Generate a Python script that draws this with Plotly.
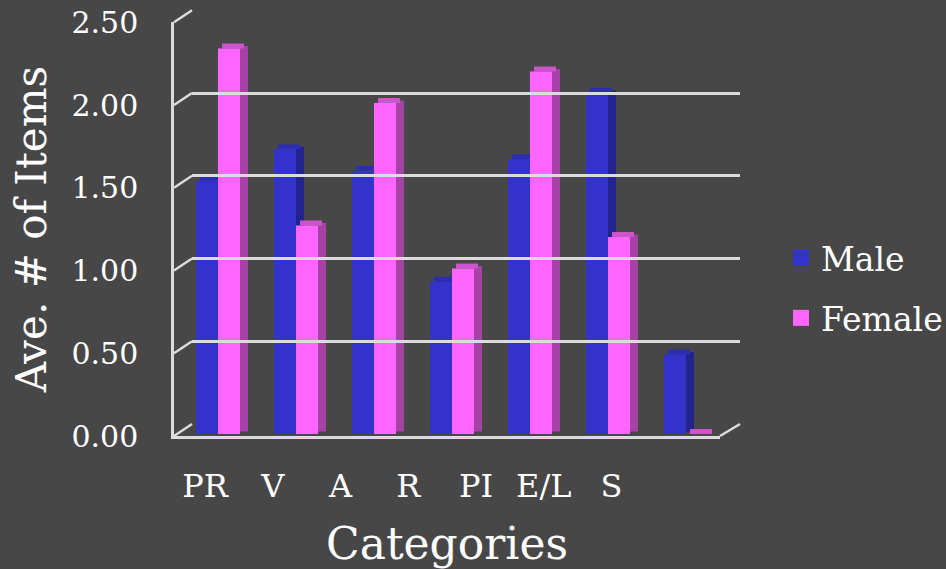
import plotly.graph_objects as go

categories = ["PR", "V", "A", "R", "PI", "E/L", "S"]
male = [1.53, 1.72, 1.59, 0.92, 1.66, 2.06, 0.48]
female = [2.33, 1.26, 2.00, 1.00, 2.19, 1.19, 0.0]
y_ticks = [0, 0.5, 1.0, 1.5, 2.0, 2.5]
y_tick_text = ["0.00", "0.50", "1.00", "1.50", "2.00", "2.50"]

BG = "#474747"
BLUE, BLUE_SIDE, BLUE_TOP = "#3333CC", "#23238C", "#2C2CB4"
PINK, PINK_SIDE, PINK_TOP = "#FF66FF", "#A642A6", "#CC55CC"
GRID = "#dcdcdc"
SERIF = "DejaVu Serif"

# pixel layout of the pseudo-3D frame
W, H = 946, 569
PXL, PXR, PYT, PYB = 160, 946, 10, 437
PPU = 165.5            # pixels per unit on the value axis
BAR_W = 0.282          # bar width in category units
DX = 0.103             # bar depth, category units
DY = 0.03              # bar depth, value units


def fx(px):
    return (px - PXL) / (PXR - PXL)


def fy(py):
    return (PYB - py) / (PYB - PYT)


fig = go.Figure()
# side faces
for vals, off, col, nm in [(male, -BAR_W, BLUE_SIDE, "Male"), (female, 0.0, PINK_SIDE, "Female")]:
    fig.add_trace(go.Bar(x=categories, y=vals, base=DY / 2, offset=off + BAR_W, width=DX,
                         marker=dict(color=col, line=dict(width=0)), showlegend=False,
                         hoverinfo="skip", name=nm))
# top faces
for vals, off, col, nm in [(male, -BAR_W, BLUE_TOP, "Male"), (female, 0.0, PINK_TOP, "Female")]:
    fig.add_trace(go.Bar(x=categories, y=[DY] * len(vals), base=vals, offset=off + DX / 2, width=BAR_W,
                         marker=dict(color=col, line=dict(width=0)), showlegend=False,
                         hoverinfo="skip", name=nm))
# front faces
for vals, off, col, nm in [(male, -BAR_W, BLUE, "Male"), (female, 0.0, PINK, "Female")]:
    fig.add_trace(go.Bar(x=categories, y=vals, offset=off, width=BAR_W,
                         marker=dict(color=col, line=dict(width=0)), showlegend=False, name=nm))

# legend entries
fig.add_trace(go.Scatter(x=[None], y=[None], mode="markers", name="Male", legendgroup="m",
                         marker=dict(symbol="square", size=20, color=BLUE)))
fig.add_trace(go.Scatter(x=[None], y=[None], mode="markers", name="Female", legendgroup="f",
                         marker=dict(symbol="square", size=20, color=PINK)))

# helper (empty) traces carrying the frame axes
for xa, ya in [("x2", "y2"), ("x3", "y3"), ("x4", "y4")]:
    fig.add_trace(go.Scatter(x=categories, y=[None] * len(categories), mode="markers",
                             showlegend=False, hoverinfo="skip", xaxis=xa, yaxis=ya))

common_cat = dict(type="category", categoryarray=categories, range=[-0.5, 6.5],
                  showgrid=False, zeroline=False, ticks="", automargin=False)

shapes = []
for v in y_ticks:
    shapes.append(dict(type="line", xref="paper", yref="paper",
                       x0=fx(174), y0=fy(436 - v * PPU), x1=fx(192), y1=fy(424 - v * PPU),
                       line=dict(color=GRID, width=2.5)))
shapes.append(dict(type="line", xref="paper", yref="paper",
                   x0=fx(720), y0=fy(436), x1=fx(740), y1=fy(424),
                   line=dict(color=GRID, width=2.5)))

fig.update_layout(
    width=W, height=H,
    margin=dict(l=PXL, r=W - PXR, t=PYT, b=H - PYB, autoexpand=False),
    paper_bgcolor=BG, plot_bgcolor="rgba(0,0,0,0)",
    barmode="overlay",
    font=dict(family=SERIF, color="white"),
    shapes=shapes,
    # bars
    xaxis=dict(**common_cat, domain=[fx(179), fx(725)], showticklabels=False, showline=False),
    yaxis=dict(range=[0, 2.5], domain=[fy(434), fy(434 - 2.5 * PPU)], visible=False,
               showgrid=False, zeroline=False),
    # category labels
    xaxis2=dict(**common_cat, domain=[fx(171.1), fx(645.4)], anchor="y2", showline=False,
                ticklabelstandoff=28, tickfont=dict(size=32, family=SERIF, color="white")),
    yaxis2=dict(range=[0, 2.5], domain=[fy(436), fy(436 - 2.5 * PPU)], anchor="x2", visible=False,
                showgrid=False, zeroline=False),
    # back-wall grid
    xaxis3=dict(**common_cat, domain=[fx(192), fx(740)], anchor="y3", showticklabels=False,
                showline=False),
    yaxis3=dict(range=[0, 2.5], domain=[fy(424), fy(424 - 2.5 * PPU)], anchor="x3",
                tickvals=y_ticks, showticklabels=False, ticks="",
                showgrid=True, gridcolor=GRID, gridwidth=2.5, zeroline=False, showline=False),
    # front axis: value labels, left edge and floor front edge
    xaxis4=dict(**common_cat, domain=[fx(174), fx(720)], anchor="y4", showticklabels=False,
                showline=True, linecolor=GRID, linewidth=2.5,
                title=dict(text="Categories", font=dict(size=44, family=SERIF, color="white"),
                           standoff=93)),
    yaxis4=dict(range=[0, 2.5], domain=[fy(436), fy(436 - 2.5 * PPU)], anchor="x4",
                tickvals=y_ticks, ticktext=y_tick_text, ticks="", ticklabelstandoff=27,
                tickfont=dict(size=30, family=SERIF, color="white"),
                showgrid=False, zeroline=False, showline=True, linecolor=GRID, linewidth=2.5,
                automargin=False,
                title=dict(text="Ave. # of Items", font=dict(size=42, family=SERIF, color="white"),
                           standoff=12)),
    legend=dict(x=fx(781), y=fy(230), xanchor="left", yanchor="top",
                font=dict(size=33, family=SERIF, color="white"),
                bgcolor="rgba(0,0,0,0)", traceorder="grouped", tracegroupgap=14,
                itemsizing="trace"),
)

fig.write_html("out.html", config={"displayModeBar": False},
               post_script="document.body.style.margin='0';document.body.style.background='#474747';")
